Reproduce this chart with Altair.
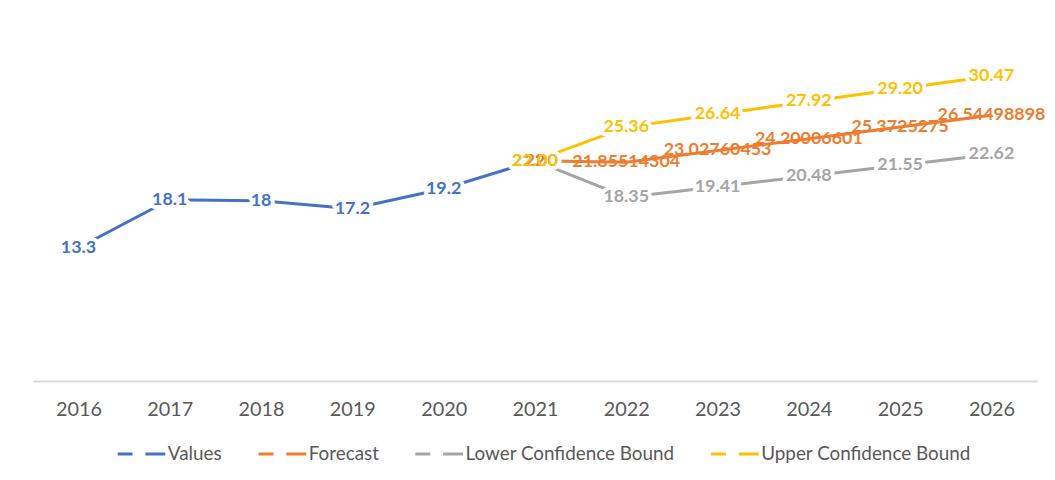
import altair as alt
import pandas as pd

years = ["2016", "2017", "2018", "2019", "2020", "2021", "2022", "2023", "2024", "2025", "2026"]
series_names = ["Values", "Forecast", "Lower Confidence Bound", "Upper Confidence Bound"]
series_colors = ["#4472C4", "#ED7D31", "#A5A5A5", "#FFC000"]

values_years = ["2016", "2017", "2018", "2019", "2020", "2021"]
values = [13.3, 18.1, 18, 17.2, 19.2, 22]
values_labels = ["13.3", "18.1", "18", "17.2", "19.2", "22"]

fc_years = ["2021", "2022", "2023", "2024", "2025", "2026"]
forecast = [22, 21.85514304, 23.02760453, 24.20006601, 25.3725275, 26.54498898]
forecast_labels = ["22", "21.85514304", "23.02760453", "24.20006601", "25.3725275", "26.54498898"]
lower = [22.00, 18.35, 19.41, 20.48, 21.55, 22.62]
lower_labels = ["22.00", "18.35", "19.41", "20.48", "21.55", "22.62"]
upper = [22.00, 25.36, 26.64, 27.92, 29.20, 30.47]
upper_labels = ["22.00", "25.36", "26.64", "27.92", "29.20", "30.47"]

rows = []
for name, yrs, vals, labs in [
    ("Values", values_years, values, values_labels),
    ("Forecast", fc_years, forecast, forecast_labels),
    ("Lower Confidence Bound", fc_years, lower, lower_labels),
    ("Upper Confidence Bound", fc_years, upper, upper_labels),
]:
    for y, v, l in zip(yrs, vals, labs):
        rows.append({"year": y, "value": v, "series": name, "label": l,
                     "order": series_names.index(name)})
df = pd.DataFrame(rows)

FONT = "Lato"

x_enc = alt.X("year:O", scale=alt.Scale(type="point", domain=years, padding=0.5),
              axis=alt.Axis(title=None, labelAngle=0, ticks=False, grid=False,
                            domainColor="#D9D9D9", domainWidth=2,
                            labelFont=FONT, labelFontSize=20, labelColor="#595959",
                            labelPadding=19))
y_enc = alt.Y("value:Q", scale=alt.Scale(domain=[0, 35], nice=False, zero=True), axis=None)
color_scale = alt.Scale(domain=series_names, range=series_colors)

base = alt.Chart(df)

lines = base.mark_line(strokeWidth=3).encode(
    x=x_enc, y=y_enc,
    color=alt.Color("series:N", scale=color_scale, sort=series_names,
                    legend=alt.Legend(title=None, orient="none", direction="horizontal",
                                      legendX=84, legendY=401, columnPadding=30,
                                      symbolType="stroke", symbolSize=2304,
                                      symbolStrokeWidth=3, symbolDash=[15, 13, 20, 100],
                                      labelFont=FONT, labelFontSize=19, labelLimit=0,
                                      labelColor="#595959", labelOffset=1, padding=0)),
    detail="series:N",
)

halo = base.transform_filter(alt.datum.series != "Forecast").mark_text(
    font=FONT, fontSize=18, fontWeight="bold", stroke="white", strokeWidth=8,
    strokeJoin="round", fill="white", baseline="middle", align="center"
).encode(x=x_enc, y=y_enc, text="label:N", order="order:Q")

labels = base.mark_text(
    font=FONT, fontSize=18, fontWeight="bold", baseline="middle", align="center"
).encode(
    x=x_enc, y=y_enc, text="label:N",
    color=alt.Color("series:N", scale=color_scale, legend=None),
    order="order:Q",
)

chart = alt.layer(lines, halo, labels).properties(
    width=1012, height=353,
    background="white",
    autosize=alt.AutoSizeParams(type="none"),
    padding={"left": 25, "top": 21, "right": 10, "bottom": 90},
).configure_view(stroke=None)

chart.save("out.html", embed_options={"renderer": "svg", "actions": False})
